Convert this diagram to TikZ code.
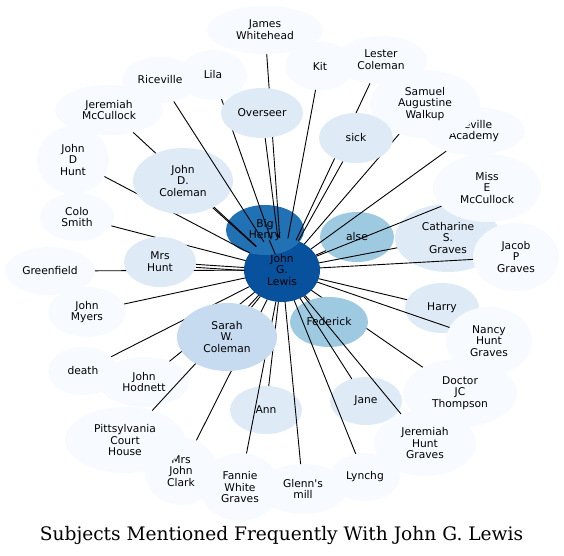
\documentclass[tikz,border=0pt]{standalone}
\usepackage{fontspec}
\usepackage{tikz}
\usetikzlibrary{shapes.geometric}
\newfontfamily\gvsans{DejaVu Sans}
\newfontfamily\gvserif{DejaVu Serif}
\definecolor{bl8}{HTML}{08519C}
\definecolor{bl7}{HTML}{2171B5}
\definecolor{bl5}{HTML}{9ECAE1}
\definecolor{bl4}{HTML}{C6DBEF}
\definecolor{bl3}{HTML}{DEEBF7}
\definecolor{bl1}{HTML}{F7FBFF}
\pgfdeclarelayer{bg}\pgfdeclarelayer{fg}\pgfsetlayers{bg,main,fg}

\begin{document}
\begin{tikzpicture}[x=1pt,y=-1pt, sub/.style={ellipse,inner sep=0pt,outer sep=0pt,align=center,font=\gvsans\fontsize{10.7}{11.7}\selectfont}, sz/.style 2 args={minimum width=#1pt,minimum height=#2pt}, lnk/.style={line width=0.9pt}]
\useasboundingbox (0,0) rectangle (564,555);
\begin{pgfonlayer}{bg}
\node[sub,fill=bl8,sz={76}{64}] (jgl) at (282,270) {John\\G.\\Lewis};
\node[sub,fill=bl7,sz={78}{50}] (henry) at (265,230) {Big\\Henry};
\node[sub,fill=bl5,sz={74}{50}] (alse) at (357,237) {alse};
\node[sub,fill=bl3,sz={106}{68}] (catharine) at (448,238) {Catharine\\S.\\Graves};
\node[sub,fill=bl3,sz={74}{50}] (harry) at (442,308) {Harry};
\node[sub,fill=bl3,sz={72}{48}] (jane) at (366,401) {Jane};
\node[sub,fill=bl3,sz={72}{48}] (ann) at (266,410) {Ann};
\node[sub,fill=bl1,sz={116}{48}] (whitehead) at (265,30) {James\\Whitehead};
\node[sub,fill=bl1,sz={70}{48}] (kit) at (320,66) {Kit};
\node[sub,fill=bl1,sz={92}{48}] (lester) at (381,60) {Lester\\Coleman};
\node[sub,fill=bl1,sz={68}{50}] (lila) at (213,75) {Lila};
\node[sub,fill=bl1,sz={76}{46}] (riceville) at (160,80) {Riceville};
\node[sub,fill=bl1,sz={108}{50}] (jmccullock) at (109,110) {Jeremiah\\McCullock};
\node[sub,fill=bl1,sz={102}{48}] (neville) at (474,131) {Neville\\Academy};
\node[sub,fill=bl1,sz={110}{68}] (walkup) at (425,104) {Samuel\\Augustine\\Walkup};
\node[sub,fill=bl1,sz={72}{68}] (jdhunt) at (73,160) {John\\D\\Hunt};
\node[sub,fill=bl1,sz={108}{68}] (miss) at (487,188) {Miss\\E\\McCullock};
\node[sub,fill=bl1,sz={74}{48}] (colo) at (77,217) {Colo\\Smith};
\node[sub,fill=bl1,sz={86}{68}] (jacob) at (516,257) {Jacob\\P\\Graves};
\node[sub,fill=bl1,sz={90}{48}] (greenfield) at (50,271) {Greenfield};
\node[sub,fill=bl1,sz={78}{50}] (myers) at (87,312) {John\\Myers};
\node[sub,fill=bl1,sz={86}{68}] (nancy) at (489,341) {Nancy\\Hunt\\Graves};
\node[sub,fill=bl1,sz={102}{66}] (jhgraves) at (425,443) {Jeremiah\\Hunt\\Graves};
\node[sub,fill=bl1,sz={114}{68}] (doctor) at (460,393) {Doctor\\JC\\Thompson};
\node[sub,fill=bl1,sz={70}{48}] (death) at (83,371) {death};
\node[sub,fill=bl1,sz={90}{50}] (hodnett) at (144,382) {John\\Hodnett};
\node[sub,fill=bl1,sz={72}{68}] (clark) at (181,471) {Mrs\\John\\Clark};
\node[sub,fill=bl1,sz={120}{66}] (pittsylvania) at (125,440) {Pittsylvania\\Court\\House};
\node[sub,fill=bl1,sz={80}{68}] (fannie) at (240,487) {Fannie\\White\\Graves};
\node[sub,fill=bl1,sz={88}{50}] (glenn) at (303,489) {Glenn\textquotesingle s\\mill};
\node[sub,fill=bl1,sz={70}{48}] (lynchg) at (365,477) {Lynchg};
\end{pgfonlayer}
\begin{pgfonlayer}{fg}
\node[sub,fill=bl3,sz={82}{50}] (overseer) at (262,113) {Overseer};
\node[sub,fill=bl3,sz={74}{50}] (sick) at (356,138) {sick};
\node[sub,fill=bl3,sz={100}{66}] (jdcoleman) at (183,181) {John\\D.\\Coleman};
\node[sub,fill=bl3,sz={72}{50}] (mrshunt) at (160,262) {Mrs\\Hunt};
\node[sub,fill=bl4,sz={100}{68}] (sarah) at (227,337) {Sarah\\W.\\Coleman};
\end{pgfonlayer}
\begin{pgfonlayer}{bg}
\draw[lnk] (jgl)--(doctor);
\node[sub,fill=bl5,sz={78}{50}] (federick) at (329,322) {Federick};
\end{pgfonlayer}
\draw[lnk] (jgl)--(whitehead);\draw[lnk] (jgl)--(kit);\draw[lnk] (jgl)--(lester);\draw[lnk] (jgl)--(lila);\draw[lnk] (jgl)--(overseer);
\draw[lnk] (jgl)--(jmccullock);\draw[lnk] (jgl)--(walkup);\draw[lnk] (jgl)--(sick);\draw[lnk] (jgl)--(neville);\draw[lnk] (jgl)--(jdhunt);
\draw[lnk] (jgl)--(jdcoleman);\draw[lnk] (jgl)--(miss);\draw[lnk] (jgl)--(henry);\draw[lnk] (jgl)--(alse);\draw[lnk] (jgl)--(catharine);
\draw[lnk] (jgl)--(colo);\draw[lnk] (jgl)--(jacob);\draw[lnk] (jgl)--(greenfield);\draw[lnk] (jgl)--(mrshunt);\draw[lnk] (jgl)--(harry);
\draw[lnk,transform canvas={yshift=-3pt}] (jgl)--(mrshunt);
\draw[lnk] (jgl)--(myers);\draw[lnk] (jgl)--(nancy);\draw[lnk] (jgl)--(federick);\draw[lnk] (jgl)--(sarah);\draw[lnk] (jgl)--(death);
\draw[lnk] (jgl)--(hodnett);\draw[lnk] (jgl)--(jane);\draw[lnk] (jgl)--(ann);\draw[lnk] (jgl)--(pittsylvania);\draw[lnk] (jgl)--(jhgraves);
\draw[lnk] (jgl)--(clark);\draw[lnk] (jgl)--(fannie);\draw[lnk] (jgl)--(glenn);\draw[lnk] (jgl)--(lynchg);
\begin{pgfonlayer}{fg}
\draw[lnk] (jgl)--(riceville);
\end{pgfonlayer}
\node[font=\gvserif\fontsize{18.6}{22}\selectfont,anchor=base] (title) at (281.5,540) {Subjects Mentioned Frequently With John G. Lewis};
\end{tikzpicture}
\end{document}
